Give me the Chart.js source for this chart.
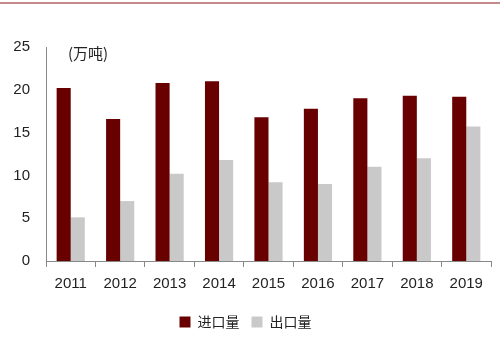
<!DOCTYPE html>
<html lang="zh">
<head>
    <meta charset="UTF-8">
    <title>进出口量</title>
    <style>
        body {
            margin: 0;
            background: #fff;
        }
        #wrap {
            position: relative;
            width: 500px;
            height: 352px;
        }
        #topline {
            position: absolute;
            left: 0;
            top: 2px;
            width: 500px;
            height: 2px;
            background: #c48a8a;
        }
    </style>
    <script src="https://cdn.jsdelivr.net/npm/chart.js"></script>
</head>
<body>
    <div id="wrap">
        <div id="topline"></div>
        <canvas id="chart" width="500" height="352"></canvas>
    </div>

    <script>
        const years = ['2011', '2012', '2013', '2014', '2015', '2016', '2017', '2018', '2019'];
        const imports = [20.2, 16.6, 20.8, 21.0, 16.8, 17.8, 19.0, 19.3, 19.2];
        const exports = [5.1, 7.0, 10.2, 11.8, 9.2, 9.0, 11.0, 12.0, 15.7];
        const yTicks = [0, 5, 10, 15, 20, 25];
        const unitLabel = '(万吨)';

        const tickFont = { family: "'Liberation Sans', Arial, sans-serif", size: 15 };

        // draws the unit text inside the plot, top left
        const unitPlugin = {
            id: 'unit',
            afterDraw(chart) {
                const ctx = chart.ctx;
                const area = chart.chartArea;
                ctx.save();
                ctx.font = "15px 'Noto Sans CJK SC', sans-serif";
                ctx.fillStyle = '#222';
                ctx.textBaseline = 'middle';
                ctx.fillText(unitLabel, area.left + 22, area.top + 6);
                ctx.restore();
            }
        };

        new Chart(document.getElementById('chart'), {
            type: 'bar',
            data: {
                labels: years,
                datasets: [
                    { label: '进口量', data: imports, backgroundColor: '#680000' },
                    { label: '出口量', data: exports, backgroundColor: '#c9c9c9' }
                ]
            },
            options: {
                responsive: false,
                animation: false,
                layout: { padding: { top: 47, right: 9, left: 0, bottom: 13 } },
                datasets: {
                    bar: { categoryPercentage: 0.57, barPercentage: 1.0 }
                },
                scales: {
                    x: {
                        grid: {
                            display: true,
                            offset: true,
                            drawOnChartArea: false,
                            drawTicks: true,
                            tickLength: 6,
                            color: '#888'
                        },
                        border: { color: '#888', width: 1 },
                        ticks: { color: '#222', font: tickFont, padding: 8 },
                        afterFit(scale) { scale.height = 42; }
                    },
                    y: {
                        min: 0,
                        max: 25,
                        afterBuildTicks(scale) {
                            scale.ticks = yTicks.map(v => ({ value: v }));
                        },
                        grid: { display: false, drawTicks: false },
                        border: { color: '#888', width: 1 },
                        ticks: { color: '#222', font: tickFont, padding: 16 },
                        afterFit(scale) { scale.width = 46; }
                    }
                },
                plugins: {
                    legend: {
                        position: 'bottom',
                        labels: {
                            boxWidth: 11,
                            boxHeight: 11,
                            padding: 12,
                            color: '#222',
                            font: { family: "'Noto Sans CJK SC', serif", size: 14 }
                        }
                    },
                    tooltip: { enabled: false }
                }
            },
            plugins: [unitPlugin]
        });
    </script>
</body>
</html>
